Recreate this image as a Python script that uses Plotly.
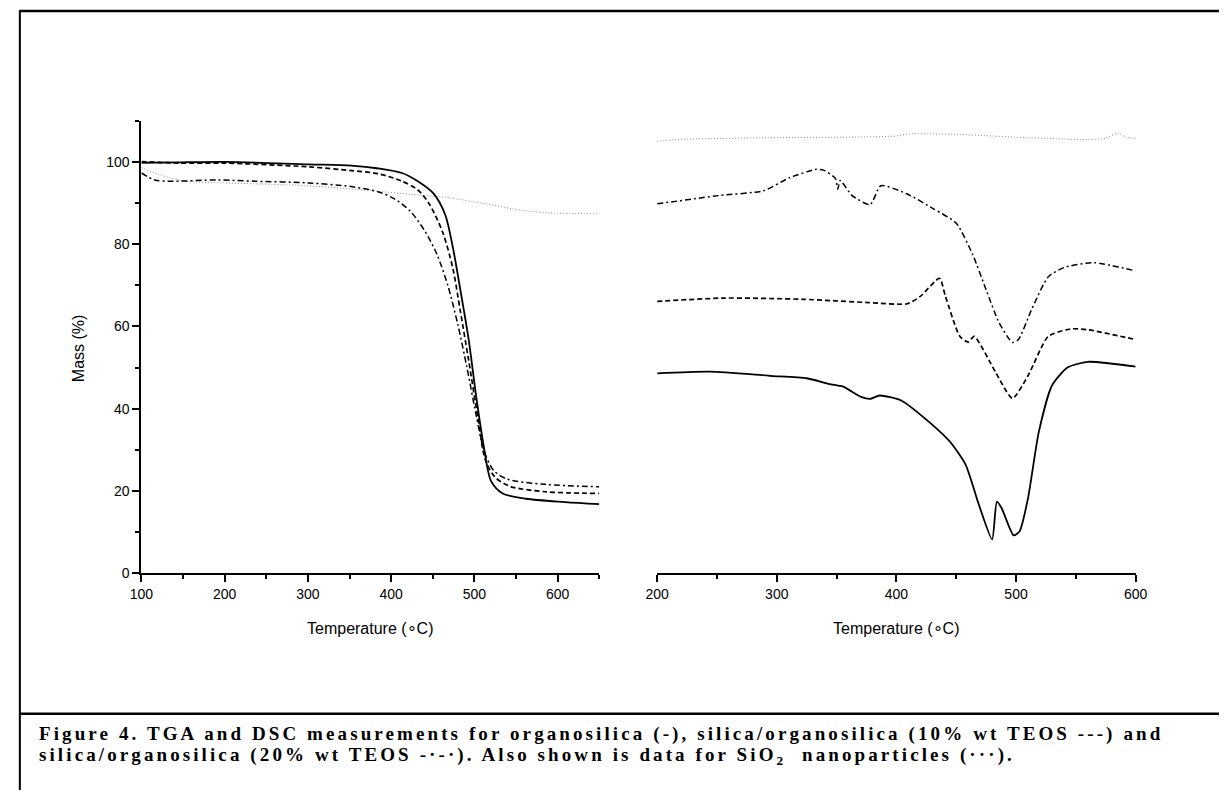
import plotly.graph_objects as go

# ---------------- TGA (left panel) ----------------
tga_solid_T = [100, 144, 200, 300, 352, 385, 413, 432, 451, 465, 474, 483, 493, 502, 511, 520, 534, 562, 609, 650]
tga_solid_m = [99.8, 99.9, 100.0, 99.4, 99.1, 98.4, 97.3, 95.3, 92.3, 87.1, 79.3, 69.0, 56.9, 43.1, 31.1, 22.4, 19.4, 18.1, 17.3, 16.8]

tga_dash_T = [100, 144, 200, 300, 352, 385, 413, 432, 446, 462, 474, 483, 493, 504, 513, 525, 543, 585, 650]
tga_dash_m = [100.1, 99.7, 99.7, 98.8, 97.9, 97.1, 95.3, 93.2, 89.7, 82.8, 74.2, 63.8, 51.8, 38.0, 27.6, 23.3, 21.1, 19.8, 19.4]

tga_dashdot_T = [100, 116, 135, 191, 237, 300, 352, 385, 404, 423, 441, 455, 468, 480, 491, 502, 512, 523, 539, 585, 650]
tga_dashdot_m = [97.3, 95.6, 95.3, 95.6, 95.3, 94.9, 94.0, 92.7, 91.0, 88.0, 83.0, 77.5, 70.0, 60.5, 50.0, 38.5, 29.5, 25.0, 22.9, 21.6, 21.0]

tga_dot_T = [100, 126, 153, 200, 300, 376, 423, 469, 516, 557, 590, 650]
tga_dot_m = [98.6, 96.6, 95.3, 94.9, 94.2, 93.0, 92.1, 91.3, 89.7, 88.2, 87.6, 87.4]

# ---------------- DSC (right panel, arbitrary units) ----------------
dsc_solid_T = [200, 244, 294, 325, 344, 355, 371, 378, 386, 404, 426, 445, 458, 469, 480, 484, 488, 498, 503, 510, 519, 530, 543, 560, 600]
dsc_solid_v = [48.6, 49.0, 48.0, 47.4, 46.0, 45.4, 42.8, 42.4, 43.2, 42.0, 37.1, 31.9, 26.3, 16.6, 8.2, 17.4, 15.8, 9.2, 10.2, 18.2, 34.3, 45.6, 50.0, 51.4, 50.2]

dsc_dash_T = [200, 256, 322, 377, 409, 420, 436, 441, 453, 460, 465, 483, 497, 510, 527, 546, 560, 600]
dsc_dash_v = [66.1, 66.9, 66.6, 65.8, 65.5, 67.3, 71.7, 67.3, 57.6, 56.2, 57.6, 48.8, 42.5, 48.0, 57.6, 59.4, 59.2, 56.8]

dsc_dashdot_T = [200, 251, 289, 311, 333, 339, 349, 351, 353, 363, 378, 387, 409, 431, 450, 464, 475, 486, 497, 502, 513, 527, 540, 565, 600]
dsc_dashdot_v = [89.8, 91.8, 93.0, 96.2, 98.2, 98.0, 96.0, 93.4, 95.5, 91.8, 89.6, 94.2, 92.2, 88.6, 85.1, 77.3, 68.9, 60.8, 56.1, 56.8, 64.1, 72.1, 74.3, 75.5, 73.5]

dsc_dot_T = [200, 220, 250, 300, 350, 380, 400, 410, 450, 480, 500, 530, 560, 575, 585, 592, 600]
dsc_dot_v = [105.0, 105.5, 105.7, 105.9, 106.0, 106.1, 106.3, 106.8, 106.7, 106.3, 106.0, 105.7, 105.4, 105.8, 107.0, 106.0, 105.7]

caption_line1 = "Figure 4. TGA and DSC measurements for organosilica (-), silica/organosilica (10% wt TEOS ---) and"
caption_line2 = "silica/organosilica (20% wt TEOS -\u00b7-\u00b7). Also shown is data for SiO<sub>2</sub>  nanoparticles (\u00b7\u00b7\u00b7)."

W, H = 1231, 798
def px(x):
    return x / W
def py(y):
    return 1 - y / H

SANS = "Liberation Sans, Arial, sans-serif"
SERIF = "Liberation Serif, Times New Roman, serif"

styles = {
    "solid": dict(color="black", width=1.8, dash="solid"),
    "dash": dict(color="black", width=1.7, dash="5px,3px"),
    "dashdot": dict(color="black", width=1.5, dash="6px,3px,2px,3px"),
    "dot": dict(color="#8a8a8a", width=1.0, dash="1px,2px"),
}

fig = go.Figure()
left = [(tga_dot_T, tga_dot_m, "dot"), (tga_dashdot_T, tga_dashdot_m, "dashdot"),
        (tga_dash_T, tga_dash_m, "dash"), (tga_solid_T, tga_solid_m, "solid")]
for xs, ys, st in left:
    fig.add_trace(go.Scatter(x=xs, y=ys, mode="lines", line=dict(shape="spline", smoothing=0.8, **styles[st]),
                             xaxis="x", yaxis="y", showlegend=False, hoverinfo="skip"))
right = [(dsc_dot_T, dsc_dot_v, "dot"), (dsc_dashdot_T, dsc_dashdot_v, "dashdot"),
         (dsc_dash_T, dsc_dash_v, "dash"), (dsc_solid_T, dsc_solid_v, "solid")]
for xs, ys, st in right:
    fig.add_trace(go.Scatter(x=xs, y=ys, mode="lines", line=dict(shape="spline", smoothing=0.6, **styles[st]),
                             xaxis="x2", yaxis="y2", showlegend=False, hoverinfo="skip"))

ax_common = dict(showline=True, linecolor="black", linewidth=2, showgrid=False, zeroline=False,
                 ticks="outside", ticklen=7, tickwidth=1.5, tickcolor="black",
                 tickfont=dict(family=SANS, size=14, color="black"))

fig.update_layout(
    width=W, height=H, margin=dict(l=0, r=0, t=0, b=0),
    paper_bgcolor="white", plot_bgcolor="white",
    xaxis=dict(domain=[px(132), px(599)], range=[100, 650], dtick=100, tick0=100, anchor="y",
               minor=dict(dtick=50, tick0=100, ticks="outside", ticklen=4, tickcolor="black"), **ax_common),
    yaxis=dict(domain=[py(579), py(122)], range=[0, 110], dtick=20, tick0=0, anchor="x",
               minor=dict(dtick=10, tick0=0, ticks="outside", ticklen=4, tickcolor="black"), **ax_common),
    xaxis2=dict(domain=[px(658), px(1146)], range=[200, 600], dtick=100, tick0=200, anchor="y2",
                minor=dict(dtick=50, tick0=200, ticks="outside", ticklen=4, tickcolor="black"), **ax_common),
    yaxis2=dict(domain=[py(579), py(122)], range=[0, 110], visible=False, anchor="x2"),
)

ann_font = dict(family=SANS, size=16, color="black")
fig.add_annotation(text="Temperature (\u2218C)", x=px(365), y=py(635), xref="paper", yref="paper",
                   showarrow=False, font=ann_font, xanchor="center", yanchor="middle")
fig.add_annotation(text="Temperature (\u2218C)", x=px(902), y=py(635), xref="paper", yref="paper",
                   showarrow=False, font=ann_font, xanchor="center", yanchor="middle")
fig.add_annotation(text="Mass (%)", x=px(68), y=py(352), xref="paper", yref="paper", textangle=-90,
                   showarrow=False, font=ann_font, xanchor="center", yanchor="middle")

cap_font = dict(family=SERIF, size=19, color="black")
sp = '<span style="letter-spacing:3.1px">'
fig.add_annotation(text="<b>" + sp + caption_line1 + "</span></b>", x=px(25), y=py(741), xref="paper", yref="paper",
                   showarrow=False, font=cap_font, xanchor="left", yanchor="middle")
fig.add_annotation(text="<b>" + sp + caption_line2 + "</span></b>", x=px(25), y=py(764), xref="paper", yref="paper",
                   showarrow=False, font=cap_font, xanchor="left", yanchor="middle")

# frame lines
fig.add_shape(type="line", xref="paper", yref="paper", x0=px(8), x1=1, y0=py(11), y1=py(11),
              line=dict(color="black", width=2.5))
fig.add_shape(type="line", xref="paper", yref="paper", x0=px(8), x1=px(8), y0=py(10), y1=0,
              line=dict(color="black", width=2))
fig.add_shape(type="line", xref="paper", yref="paper", x0=px(8), x1=1, y0=py(721), y1=py(721),
              line=dict(color="black", width=2.5))

fig.write_html("out.html")
